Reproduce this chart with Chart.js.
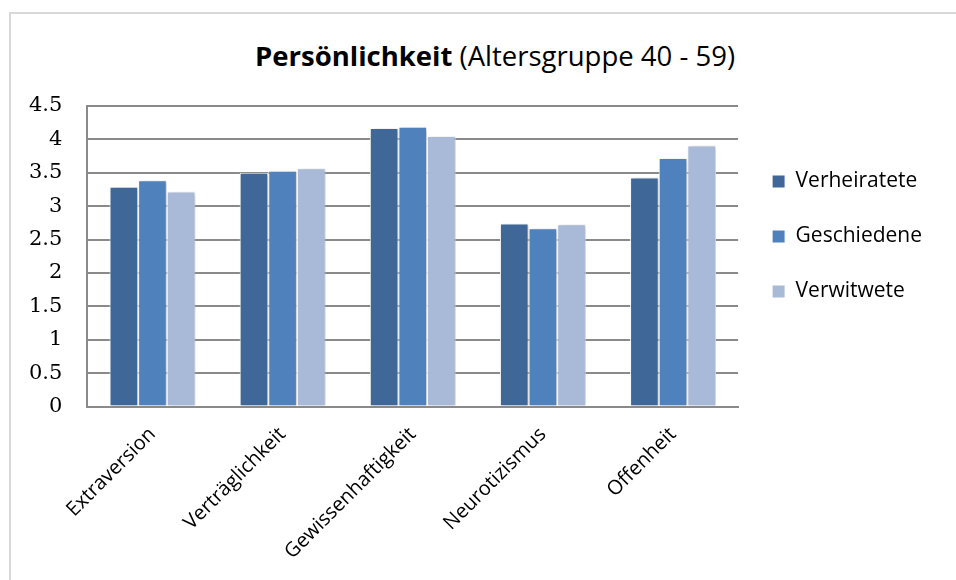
<!DOCTYPE html>
<html>
<head>
<meta charset="utf-8">
<script src="https://cdn.jsdelivr.net/npm/chart.js"></script>
<style>
  html, body { margin: 0; padding: 0; background: #fff; overflow: hidden; }
  #wrap { position: relative; width: 956px; height: 580px; overflow: hidden; }
  #frame {
    position: absolute; left: 9px; top: 12px; width: 1100px; height: 700px;
    border: 2px solid #d9d9d9; box-sizing: border-box;
  }
  #title {
    position: absolute; left: 0; top: 38px; width: 990px; text-align: center;
    font-family: "Open Sans", sans-serif; font-size: 27.5px; color: #000; line-height: 36px;
  }
  #title b { font-weight: bold; }
  canvas { position: absolute; left: 0; top: 0; }
</style>
</head>
<body>
<div id="wrap">
  <div id="frame"></div>
  <div id="title"><b>Persönlichkeit</b> (Altersgruppe 40 - 59)</div>
  <canvas id="chart" width="956" height="580"></canvas>
</div>
<script>
"use strict";

// data
const categories = ["Extraversion", "Verträglichkeit", "Gewissenhaftigkeit", "Neurotizismus", "Offenheit"];
const verheiratete = [3.29, 3.5, 4.17, 2.74, 3.43];
const geschiedene = [3.39, 3.53, 4.19, 2.67, 3.72];
const verwitwete = [3.22, 3.57, 4.05, 2.73, 3.91];
const seriesNames = ["Verheiratete", "Geschiedene", "Verwitwete"];
const seriesColors = ["#3f6899", "#4f81bd", "#a9b9d8"];

// soft shadow behind the bars, like the office chart
const barShadow = {
  id: "barShadow",
  beforeDatasetsDraw(chart) {
    const ctx = chart.ctx;
    ctx.save();
    ctx.shadowColor = "rgba(0,0,0,0.22)";
    ctx.shadowBlur = 4;
    ctx.shadowOffsetX = 2;
    ctx.shadowOffsetY = 1;
  },
  afterDatasetsDraw(chart) {
    chart.ctx.restore();
  },
};

const ctx = document.getElementById("chart").getContext("2d");
new Chart(ctx, {
  type: "bar",
  data: {
    labels: categories,
    datasets: [verheiratete, geschiedene, verwitwete].map((d, i) => ({
      label: seriesNames[i],
      data: d,
      backgroundColor: seriesColors[i],
      borderColor: "#ffffff",
      borderWidth: 1,
      categoryPercentage: 0.66,
      barPercentage: 1.0,
    })),
  },
  options: {
    responsive: false,
    animation: false,
    layout: { padding: { top: 106, left: 4, right: 24, bottom: 0 } },
    plugins: {
      tooltip: { enabled: false },
      legend: {
        position: "right",
        align: "start",
        fullSize: false,
        // empty title only used as a spacer above the legend items
        title: { display: true, text: "", padding: { top: 19, bottom: 0 }, font: { size: 10 } },
        labels: {
          boxWidth: 13,
          boxHeight: 13,
          padding: 34,
          color: "#000",
          font: { family: "'Open Sans', sans-serif", size: 21 },
        },
      },
    },
    scales: {
      x: {
        grid: { display: false, drawTicks: false },
        border: { display: true, color: "#8a8a8a", width: 2 },
        ticks: {
          minRotation: 45,
          maxRotation: 45,
          padding: 16,
          color: "#000",
          font: { family: "'Open Sans', sans-serif", size: 20 },
        },
      },
      y: {
        min: 0,
        max: 4.5,
        ticks: {
          stepSize: 0.5,
          padding: 25,
          color: "#000",
          font: { family: "'DejaVu Serif', serif", size: 21 },
          callback: (v) => String(v),
        },
        grid: { color: "#8a8a8a", lineWidth: 2, drawTicks: false },
        border: { display: true, color: "#8a8a8a", width: 2 },
      },
    },
  },
  plugins: [barShadow],
});
</script>
</body>
</html>
